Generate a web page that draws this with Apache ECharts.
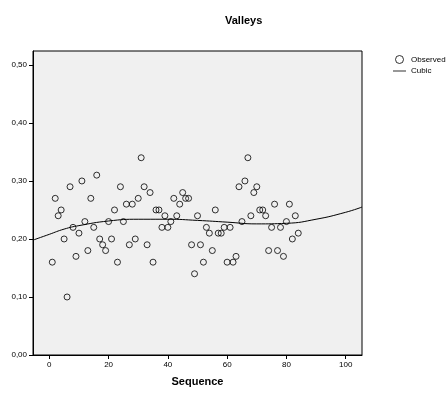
<!DOCTYPE html>
<html><head><meta charset="utf-8">
<script src="https://cdn.jsdelivr.net/npm/echarts@6/dist/echarts.min.js"></script>
<style>html,body{margin:0;padding:0;background:#fff}#c{width:447px;height:394px}</style>
</head><body><div id="c"></div>
<script>
var sequence = [];
for (var i = 1; i <= 84; i++) sequence.push(i);
var observed = [0.16,0.27,0.24,0.25,0.20,0.10,0.29,0.22,0.17,0.21,
  0.30,0.23,0.18,0.27,0.22,0.31,0.20,0.19,0.18,0.23,
  0.20,0.25,0.16,0.29,0.23,0.26,0.19,0.26,0.20,0.27,
  0.34,0.29,0.19,0.28,0.16,0.25,0.25,0.22,0.24,0.22,
  0.23,0.27,0.24,0.26,0.28,0.27,0.27,0.19,0.14,0.24,
  0.19,0.16,0.22,0.21,0.18,0.25,0.21,0.21,0.22,0.16,
  0.22,0.16,0.17,0.29,0.23,0.30,0.34,0.24,0.28,0.29,
  0.25,0.25,0.24,0.18,0.22,0.26,0.18,0.22,0.17,0.23,
  0.26,0.20,0.24,0.21];
var cubicX = [-5.5, 0, 5, 10, 20, 30, 40, 50, 60, 70, 80, 90, 100, 105.5];
var cubicY = [0.198, 0.208, 0.217, 0.223, 0.231, 0.234, 0.234, 0.232, 0.229, 0.226, 0.227, 0.234, 0.246, 0.255];
var xTicks = [0, 20, 40, 60, 80, 100];
var yTicks = [0, 0.1, 0.2, 0.3, 0.4, 0.5];

var obsData = sequence.map(function (s, i) { return [s, observed[i]]; });
var cubData = cubicX.map(function (x, i) { return [x, cubicY[i]]; });
var FONT = 'Liberation Sans, Arial, sans-serif';

var chart = echarts.init(document.getElementById('c'), null, {renderer: 'canvas'});
chart.setOption({
  animation: false,
  backgroundColor: '#ffffff',
  title: {text: 'Valleys', left: 220, top: 10,
    textStyle: {fontFamily: FONT, fontSize: 11, fontWeight: 'bold', color: '#000'}},
  legend: {
    orient: 'vertical', left: 388, top: 50, itemGap: 3, itemWidth: 13, itemHeight: 8,
    textStyle: {fontFamily: FONT, fontSize: 8, color: '#000'},
    data: [
      {name: 'Observed', icon: 'circle', itemStyle: {color: 'rgba(0,0,0,0)', borderColor: '#000', borderWidth: 1}},
      {name: 'Cubic', icon: 'path://M0,0H16V1H0Z', itemStyle: {color: '#000', borderWidth: 0}}
    ]
  },
  grid: {left: 33, top: 51, right: 85, bottom: 39, show: true,
    backgroundColor: '#f0f0f0', borderColor: '#000', borderWidth: 1},
  xAxis: {
    type: 'value', min: -5.5, max: 105.5,
    name: 'Sequence', nameLocation: 'middle', nameGap: 21,
    nameTextStyle: {fontFamily: FONT, fontSize: 11, fontWeight: 'bold', color: '#000'},
    axisLine: {show: true, onZero: false, lineStyle: {color: '#000'}},
    axisTick: {show: true, inside: false, length: 4, lineStyle: {color: '#000'}, customValues: xTicks},
    axisLabel: {fontFamily: FONT, fontSize: 8, color: '#000', margin: 6, customValues: xTicks},
    splitLine: {show: false}
  },
  yAxis: {
    type: 'value', min: 0, max: 0.524,
    axisLine: {show: true, onZero: false, lineStyle: {color: '#000'}},
    axisTick: {show: true, inside: false, length: 4, lineStyle: {color: '#000'}, customValues: yTicks},
    axisLabel: {fontFamily: FONT, fontSize: 8, color: '#000', margin: 6, customValues: yTicks,
      formatter: function (v) { return v.toFixed(2).replace('.', ','); }},
    splitLine: {show: false}
  },
  series: [
    {name: 'Observed', type: 'scatter', data: obsData, symbol: 'circle', symbolSize: 6,
      itemStyle: {color: 'rgba(0,0,0,0)', borderColor: '#000', borderWidth: 1}},
    {name: 'Cubic', type: 'line', data: cubData, smooth: true, symbol: 'none',
      lineStyle: {color: '#000', width: 1}, itemStyle: {color: '#000'}, clip: true}
  ]
});
</script></body></html>
